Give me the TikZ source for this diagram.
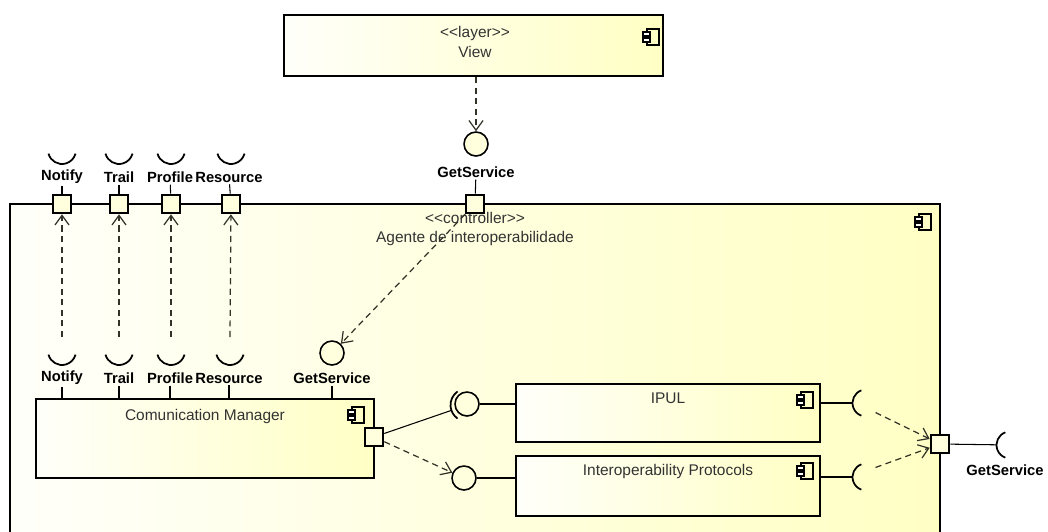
\documentclass[tikz,border=0pt]{standalone}
\usepackage{fontspec}
\setmainfont{Liberation Sans}
\usetikzlibrary{positioning,fit,arrows.meta,calc}
\definecolor{boxyellow}{RGB}{255,255,196}
\definecolor{boxpale}{RGB}{255,255,250}
\definecolor{portfill}{RGB}{255,255,222}
\definecolor{dashgray}{RGB}{50,50,40}
\tikzset{
comp/.style={draw,line width=1.3pt,left color=boxpale,right color=boxyellow,inner sep=0pt},
port/.style={rectangle,draw,line width=1.2pt,fill=portfill,minimum size=0.37cm,inner sep=0pt},
ball/.style={circle,draw,line width=0.9pt,fill=portfill,minimum size=0.48cm,inner sep=0pt},
sockpt/.style={circle,inner sep=0pt,outer sep=0pt,minimum size=#1},
sock/.style={line width=1pt},
lbl/.style={font=\bfseries\fontsize{8.4}{10}\selectfont,inner sep=1pt},
txt/.style={font=\fontsize{8.8}{11}\selectfont,text=black!80,align=center,inner sep=0pt},
dep/.style={-{Straight Barb[length=5.5pt,width=8pt]},dash pattern=on 3.5pt off 2.5pt,color=dashgray,line width=0.7pt},
wire/.style={line width=0.6pt},
compicon/.pic={
  \draw[line width=0.6pt] (-5,-8) rectangle (7,8);
  \draw[line width=0.6pt,fill=boxpale] (-9,-5) rectangle (-2,-1);
  \draw[line width=0.6pt,fill=boxpale] (-9,1) rectangle (-2,5);
},
}

\begin{document}
\begin{tikzpicture}[x=0.02cm,y=-0.02cm]
\useasboundingbox (0,0) rectangle (1048,531);

% controller
\node[comp,fit={(10,204) (940,560)}] (agent) {};
\node[txt] (agentlbl) at (475,229) {<{}<controller>{}>\\Agente de interoperabilidade};
\pic at (924,222) {compicon};

% view layer
\node[comp,fit={(284,15) (663,76)}] (view) {};
\node[txt] (viewlbl) at (475,42) {<{}<layer>{}>\\View};
\pic at (652,37) {compicon};

\node[ball] (gs) at (476,144) {};
\node[lbl] (lgs) at (476,172) {GetService};
\node[port] (gsp) at (475,204) {};

% required interfaces on top
\node[sockpt=0.56cm] (sN) at (62,150) {};
\node[sockpt=0.56cm] (sT) at (119,150) {};
\node[sockpt=0.56cm] (sP) at (171,150) {};
\node[sockpt=0.56cm] (sR) at (231,150) {};
\node[lbl] (lN) at (62,177) {Notify};
\node[lbl] (lT) at (119,177) {Trail};
\node[lbl] (lP) at (170,177) {Profile};
\node[lbl] (lR) at (229,177) {Resource};
\node[port] (pN) at (62,204) {};
\node[port] (pT) at (119,204) {};
\node[port] (pP) at (171,204) {};
\node[port] (pR) at (231,204) {};

% communication manager
\node[comp,fit={(36,399) (374,478)}] (cm) {};
\node[txt,anchor=north] (cmlbl) at (205,409) {Comunication Manager};
\pic at (357,415) {compicon};
\node[port] (cmp) at (374,437) {};

\node[sockpt=0.56cm] (iN) at (62,351) {};
\node[sockpt=0.56cm] (iT) at (119,351) {};
\node[sockpt=0.56cm] (iP) at (171,351) {};
\node[sockpt=0.56cm] (iR) at (230,351) {};
\node[ball] (igs) at (332,353) {};
\node[lbl] (ilN) at (62,378) {Notify};
\node[lbl] (ilT) at (119,378) {Trail};
\node[lbl] (ilP) at (170,378) {Profile};
\node[lbl] (ilR) at (229,378) {Resource};
\node[lbl] (ilgs) at (332,378) {GetService};

% IPUL and protocols
\node[comp,fit={(516,384) (820,442)}] (ipul) {};
\node[txt,anchor=north] (ipullbl) at (668,393) {IPUL};
\pic at (806,400) {compicon};
\node[comp,fit={(516,456) (820,516)}] (ip) {};
\node[txt,anchor=north] (iplbl) at (668,464) {Interoperability Protocols};
\pic at (806,471) {compicon};

\node[ball] (ipulball) at (467,404) {};
\node[sockpt=0.66cm] (ipulsock) at (467,405) {};
\node[ball] (ipball) at (464,478) {};
\node[sockpt=0.54cm] (sIPUL) at (866,403) {};
\node[sockpt=0.54cm] (sIP) at (866,477) {};

\node[port] (rp) at (940,444) {};
\node[sockpt=0.54cm] (sExt) at (1010,445) {};
\node[lbl] (lext) at (1005,470) {GetService};

% sockets
\foreach \s in {sN,sT,sP,sR,iN,iT,iP,iR}
  \draw[sock] (\s.195) arc[start angle=195,end angle=345,radius=0.28cm];
\draw[sock] (ipulsock.125) arc[start angle=125,end angle=235,radius=0.33cm];
\foreach \s in {sIPUL,sIP,sExt}
  \draw[sock] (\s.110) arc[start angle=110,end angle=250,radius=0.27cm];

% wires
\draw[wire] (lN) -- (pN);
\draw[wire] (lT) -- (pT);
\draw[wire] (lP) -- (pP);
\draw[wire] (lR) -- (pR);
\draw[wire] (lgs) -- (gsp);
\foreach \l in {ilN,ilT,ilP,ilR,ilgs}
  \draw[wire] (\l) -- (\l |- cm.north);
\draw[wire] (ipulball) -- (ipulball -| ipul.west);
\draw[wire] (ipball) -- (ipball -| ip.west);
\draw[wire] (ipul.east |- sIPUL) -- (sIPUL);
\draw[wire] (ip.east |- sIP) -- (sIP);
\draw[wire] (cmp) -- (ipulsock);
\draw[wire] (rp) -- (sExt);

% dependencies
\draw[dep] (view.south -| gs) -- (gs);
\draw[dep] (iN.north) -- (pN);
\draw[dep] (iT.north) -- (pT);
\draw[dep] (iP.north) -- (pP);
\draw[dep] (iR.north) -- (pR);
\draw[dep] (gsp) -- (igs);
\draw[dep] (cmp) -- (ipball);
\draw[dep] (sIPUL.south east) -- (rp);
\draw[dep] (sIP.north east) -- (rp);
\end{tikzpicture}
\end{document}
